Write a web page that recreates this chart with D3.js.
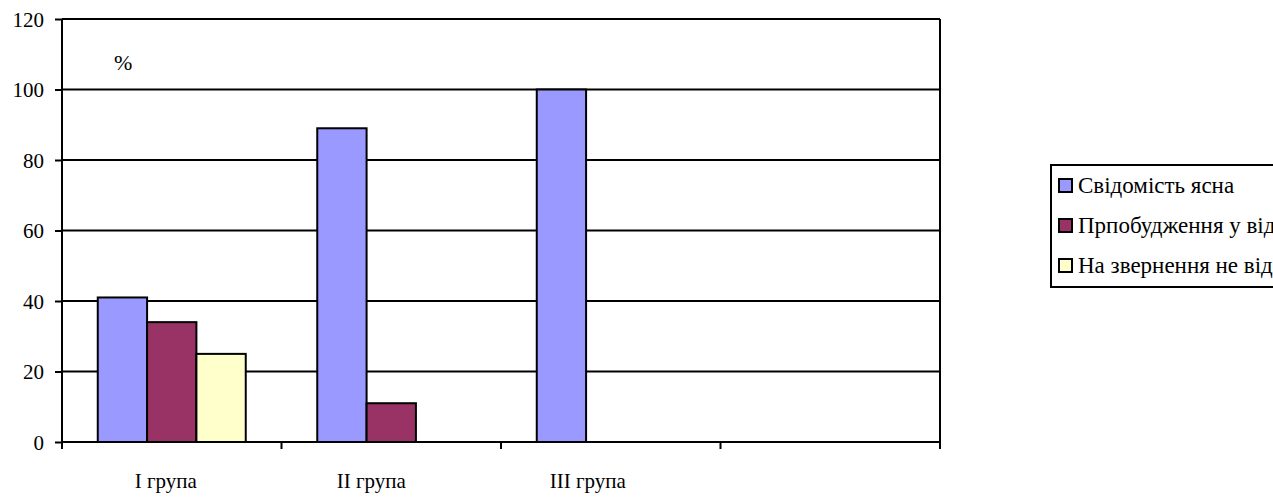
<!DOCTYPE html>
<html><head><meta charset="utf-8">
<script src="https://cdn.jsdelivr.net/npm/d3@7"></script>
<style>body{margin:0;background:#fff;overflow:hidden}svg{display:block}
svg text{fill:#000}</style>
</head><body>
<svg id="c" width="1273" height="497"></svg>
<script>
const categories = ["I група", "II група", "III група", ""];
const seriesNames = ["Свідомість ясна", "Прпобудження у відповідь на звернення", "На звернення не відповідає"];
const seriesColors = ["#9999ff", "#993366", "#ffffcc"];
const clearConsciousness = [41, 89, 100, null];
const awakening = [34, 11, null, null];
const noResponse = [25, null, null, null];
const yTicks = [0, 20, 40, 60, 80, 100, 120];
const seriesValues = [clearConsciousness, awakening, noResponse];
const labelNudge = [-6, -20, -23, 0];

const FONT = "Liberation Serif";
const svg = d3.select("#c");
const L = 62, R = 940, T = 19, B = 442;
const x = d3.scaleBand().domain(d3.range(categories.length)).range([L, R]).paddingInner(0).paddingOuter(0);
const y = d3.scaleLinear().domain([0, 120]).range([B, T]);
const inner = d3.scaleBand().domain(d3.range(seriesNames.length)).range([0, x.bandwidth()]).paddingOuter(0.725).paddingInner(0);

svg.append("g").selectAll("line").data(yTicks.filter(d => d > 0)).join("line")
  .attr("x1", L).attr("x2", R).attr("y1", d => y(d)).attr("y2", d => y(d))
  .attr("stroke", "#000").attr("stroke-width", 2);
svg.append("line").attr("x1", R).attr("x2", R).attr("y1", T).attr("y2", B).attr("stroke", "#000").attr("stroke-width", 2);

const data = [];
seriesValues.forEach((arr, s) => arr.forEach((v, i) => { if (v != null) data.push({s, i, v}); }));
svg.append("g").selectAll("rect").data(data).join("rect")
  .attr("x", d => x(d.i) + inner(d.s))
  .attr("y", d => y(d.v))
  .attr("width", inner.bandwidth())
  .attr("height", d => y(0) - y(d.v))
  .attr("fill", d => seriesColors[d.s])
  .attr("stroke", "#000").attr("stroke-width", 2);

const yAxis = svg.append("g").attr("transform", `translate(${L},0)`)
  .call(d3.axisLeft(y).tickValues(yTicks).tickSize(7).tickPadding(11));
yAxis.attr("font-family", FONT).attr("font-size", 21);
yAxis.select(".domain").attr("stroke-width", 2).attr("d", `M0,${T}V${B + 7}`);
yAxis.selectAll(".tick line").attr("stroke-width", 2);
yAxis.selectAll("text").attr("dy", "0.34em");

const xAxis = svg.append("g").attr("transform", `translate(0,${B})`)
  .attr("font-family", FONT).attr("font-size", 21);
xAxis.append("line").attr("x1", L).attr("x2", R).attr("y1", 0).attr("y2", 0).attr("stroke", "#000").attr("stroke-width", 2);
const tickPos = d3.range(categories.length + 1).map(i => i < categories.length ? x(i) : R);
xAxis.selectAll("line.t").data(tickPos).join("line").attr("class", "t")
  .attr("x1", d => d).attr("x2", d => d).attr("y1", 0).attr("y2", 7)
  .attr("stroke", "#000").attr("stroke-width", 2);
xAxis.selectAll("text").data(categories).join("text")
  .attr("x", (d, i) => x(i) + x.bandwidth() / 2 + labelNudge[i])
  .attr("y", 46)
  .attr("text-anchor", "middle")
  .text(d => d);

svg.append("text").attr("x", 114).attr("y", 70).attr("font-family", FONT).attr("font-size", 22).text("%");

const lg = svg.append("g").attr("font-family", FONT).attr("font-size", 23);
lg.append("rect").attr("x", 1051).attr("y", 165).attr("width", 300).attr("height", 122)
  .attr("fill", "#fff").attr("stroke", "#000").attr("stroke-width", 2);
seriesNames.forEach((n, i) => {
  const yy = 186 + i * 40;
  lg.append("rect").attr("x", 1059).attr("y", yy - 7).attr("width", 13).attr("height", 13)
    .attr("fill", seriesColors[i]).attr("stroke", "#000").attr("stroke-width", 2);
  lg.append("text").attr("x", 1078).attr("y", yy + 7).text(n);
});
</script>
</body></html>
